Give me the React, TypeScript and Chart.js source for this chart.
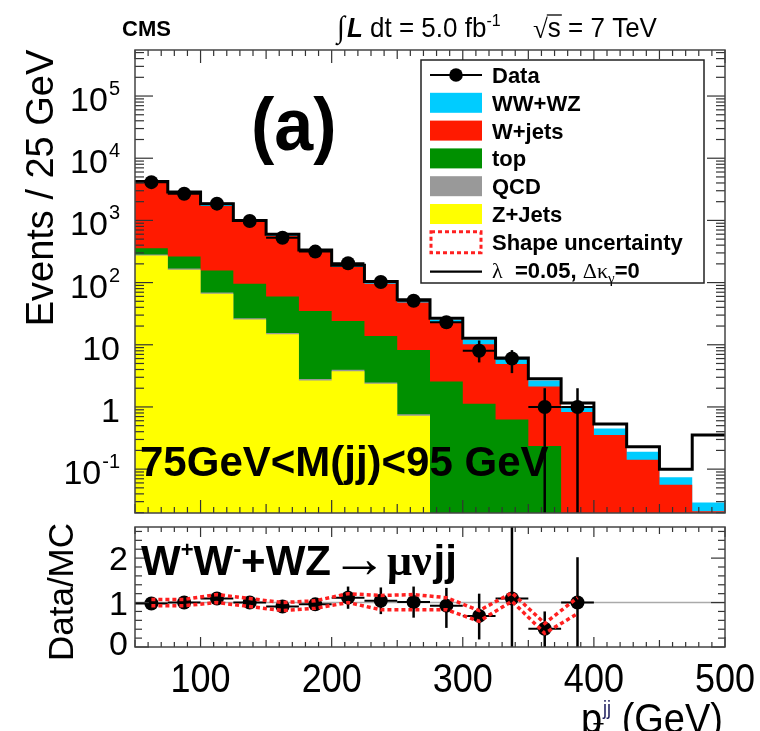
import React, { useEffect, useRef } from "react";
import { Chart, registerables } from "chart.js";

Chart.register(...registerables);

// ---------------- data ----------------
const binEdges = [50, 75, 100, 125, 150, 175, 200, 225, 250, 275, 300, 325, 350, 375, 400, 425, 450, 475, 500];
const zJets = [272, 161, 66, 25.6, 14.8, 2.66, 3.75, 2.36, 0.72, 0, 0, 0, 0, 0, 0, 0, 0, 0];
const qcd = [12, 8, 3, 1.2, 0.7, 0.15, 0.2, 0.12, 0.04, 0, 0, 0, 0, 0, 0, 0, 0, 0];
const topQuark = [72, 93, 88, 69, 44.5, 32, 20.2, 11.4, 7.44, 2.57, 1.13, 0.63, 0.236, 0, 0, 0, 0, 0];
const wJets = [3664, 2428, 1543, 852, 500, 280, 154, 82, 39.8, 20.1, 9.07, 4.27, 1.9, 0.83, 0.353, 0.141, 0.056, 0.021];
const wwWz = [150, 110, 95, 45, 32, 16, 11, 6, 3.5, 2.6, 1.7, 1.0, 0.52, 0.17, 0.097, 0.049, 0.018, 0.008];
const atgcTotal = [4230, 2850, 1860, 1000, 600, 335, 190, 104, 53, 26.6, 12.7, 6.1, 2.83, 1.16, 0.53, 0.23, 0.1, 0.353];
const dataCounts = [4120, 2690, 1860, 980, 527, 315, 205, 102, 51, 23, 8, 6, 1, 1];
const dataErrUp = [64, 52, 43, 31, 23, 18, 14, 10, 7, 4.8, 3.7, 2.2, 1, 1];
const dataErrDown = [64, 52, 43, 31, 23, 18, 14, 10, 7, 4.8, 2.8, 2.5, 1, 1];
const ratio = [0.98, 1.0, 1.09, 1.0, 0.91, 0.96, 1.11, 1.04, 1.01, 0.93, 0.7, 1.09, 0.41, 1.0];
const ratioErrUp = [0.04, 0.05, 0.06, 0.07, 0.1, 0.12, 0.25, 0.3, 0.35, 0.4, 0.5, 2.0, 0.39, 1.02];
const ratioErrDown = [0.04, 0.05, 0.06, 0.07, 0.1, 0.12, 0.25, 0.3, 0.35, 0.5, 0.53, 1.09, 0.41, 1.0];
const bandUp = [1.07, 1.07, 1.18, 1.09, 1.0, 1.04, 1.2, 1.16, 1.18, 1.11, 0.82, 1.22, 0.53, 1.11];
const bandDown = [0.93, 0.93, 1.0, 0.91, 0.82, 0.87, 1.0, 0.84, 0.84, 0.84, 0.58, 1.03, 0.31, 0.75];
const xTickLabels = [100, 200, 300, 400, 500];
const yDecades = [-1, 0, 1, 2, 3, 4, 5];
const ratioTickLabels = [0, 1, 2];

// ---------------- config ----------------
const Y_MIN = 0.0197;
const Y_MAX = 5.5e5;
const R_MAX = 2.7;
const RATIO_TOP = 520;
const SANS = '"Liberation Sans", Arial, Helvetica, sans-serif';
const SERIF = '"Liberation Serif", "DejaVu Serif", serif';
const COL = { ww: "#00ccff", wj: "#ff1a00", top: "#009000", qcd: "#999999", z: "#ffff00" };

const centers = binEdges.slice(0, -1).map((e, i) => (e + binEdges[i + 1]) / 2);

function stepPoints(vals: number[]) {
  const pts = vals.map((v, i) => ({ x: binEdges[i], y: v > 0 ? v : Y_MIN }));
  const last = vals[vals.length - 1];
  pts.push({ x: binEdges[binEdges.length - 1], y: last > 0 ? last : Y_MIN });
  return pts;
}
function cumulative(...arrs: number[][]) {
  return arrs[0].map((_, i) => arrs.reduce((s, a) => s + a[i], 0));
}

type Run = { t: string; font: string; dy?: number; dx?: number; color?: string };
function runsWidth(ctx: CanvasRenderingContext2D, runs: Run[]) {
  let w = 0;
  for (const r of runs) {
    ctx.font = r.font;
    w += ctx.measureText(r.t).width + (r.dx || 0);
  }
  return w;
}
function drawRuns(ctx: CanvasRenderingContext2D, runs: Run[], x: number, y: number, align = "left", sy = 1) {
  ctx.save();
  const w = runsWidth(ctx, runs);
  let cx = align === "right" ? x - w : align === "center" ? x - w / 2 : x;
  ctx.textAlign = "left";
  ctx.textBaseline = "alphabetic";
  for (const r of runs) {
    ctx.font = r.font;
    ctx.fillStyle = r.color || "#000";
    cx += r.dx || 0;
    ctx.save();
    ctx.translate(cx, y + (r.dy || 0));
    ctx.scale(1, sy);
    ctx.fillText(r.t, 0, 0);
    ctx.restore();
    cx += ctx.measureText(r.t).width;
  }
  ctx.restore();
  return cx;
}
function seg(ctx: CanvasRenderingContext2D, x1: number, y1: number, x2: number, y2: number) {
  ctx.beginPath();
  ctx.moveTo(x1, y1);
  ctx.lineTo(x2, y2);
  ctx.stroke();
}
function drawXTicks(ctx: CanvasRenderingContext2D, xs: any, a: any, lens: number[]) {
  for (let v = 50; v <= 500; v += 10) {
    const x = xs.getPixelForValue(v);
    const len = v % 100 === 0 ? lens[2] : v % 50 === 0 ? lens[1] : lens[0];
    seg(ctx, x, a.bottom, x, a.bottom - len);
    seg(ctx, x, a.top, x, a.top + len);
  }
}

// ---------------- plugins ----------------
const mainPlugin = {
  id: "mainDecor",
  afterDatasetsDraw(chart: any) {
    const { ctx, chartArea: a, scales } = chart;
    const xs = scales.x, ys = scales.y;
    ctx.save();
    ctx.beginPath();
    ctx.rect(a.left, a.top, a.right - a.left, a.bottom - a.top);
    ctx.clip();
    ctx.strokeStyle = "#000";
    dataCounts.forEach((v, i) => {
      const x = xs.getPixelForValue(centers[i]);
      const y = ys.getPixelForValue(v);
      ctx.lineWidth = 2;
      seg(ctx, xs.getPixelForValue(binEdges[i]), y, xs.getPixelForValue(binEdges[i + 1]), y);
      ctx.lineWidth = 2.5;
      const lo = v - dataErrDown[i];
      seg(ctx, x, ys.getPixelForValue(v + dataErrUp[i]), x, lo > 0 ? ys.getPixelForValue(lo) : a.bottom);
    });
    ctx.restore();
  },
  afterDraw(chart: any) {
    const { ctx, chartArea: a, scales } = chart;
    const xs = scales.x, ys = scales.y;
    ctx.save();
    // ticks
    ctx.strokeStyle = "#333";
    ctx.lineWidth = 1.2;
    drawXTicks(ctx, xs, a, [6, 9, 13]);
    for (let n = -2; n <= 5; n++) {
      for (let k = 1; k <= 9; k++) {
        const v = k * Math.pow(10, n);
        if (v < ys.min || v > ys.max) continue;
        const y = ys.getPixelForValue(v);
        const len = k === 1 ? 18 : 9;
        seg(ctx, a.left, y, a.left + len, y);
        seg(ctx, a.right, y, a.right - len, y);
      }
    }
    // frame
    ctx.strokeStyle = "#444";
    ctx.lineWidth = 1.5;
    ctx.strokeRect(a.left, a.top, a.right - a.left, a.bottom - a.top);

    // y labels
    yDecades.forEach((n) => {
      const y = ys.getPixelForValue(Math.pow(10, n));
      const runs: Run[] =
        n === 0
          ? [{ t: "1", font: `34px ${SANS}` }]
          : n === 1
          ? [{ t: "10", font: `34px ${SANS}` }]
          : [
              { t: "10", font: `34px ${SANS}` },
              { t: String(n), font: `20px ${SANS}`, dy: -16, dx: 1 },
            ];
      drawRuns(ctx, runs, 120, y + 15, "right");
    });

    // y title
    ctx.save();
    ctx.translate(53, 188);
    ctx.rotate(-Math.PI / 2);
    ctx.font = `38px ${SANS}`;
    ctx.fillStyle = "#000";
    ctx.textAlign = "center";
    ctx.textBaseline = "alphabetic";
    ctx.fillText("Events / 25 GeV", 0, 0);
    ctx.restore();

    // header
    drawRuns(ctx, [{ t: "CMS", font: `bold 22px ${SANS}` }], 122, 36);
    drawRuns(
      ctx,
      [
        { t: "∫", font: `italic 29px ${SERIF}` },
        { t: "L", font: `italic bold 26px ${SANS}`, dx: 2 },
        { t: " dt = 5.0 fb", font: `26px ${SANS}` },
        { t: "-1", font: `16px ${SANS}`, dy: -11 },
      ],
      337,
      37,
      "left",
      1.05
    );
    {
      const sx = drawRuns(ctx, [{ t: "√", font: `27px ${SERIF}` }], 533, 38);
      ctx.font = `26px ${SANS}`;
      const sw = ctx.measureText("s").width;
      drawRuns(ctx, [{ t: "s", font: `26px ${SANS}` }, { t: " = 7 TeV", font: `26px ${SANS}` }], sx, 37, "left", 1.05);
      ctx.strokeStyle = "#000";
      ctx.lineWidth = 1.3;
      seg(ctx, sx - 1, 15, sx + sw + 1, 15);
    }

    // (a)
    drawRuns(ctx, [{ t: "(a)", font: `bold 70px ${SANS}` }], 251, 150, "left", 1.05);
    // mass window
    drawRuns(ctx, [{ t: "75GeV<M(jj)<95 GeV", font: `bold 42px ${SANS}` }], 140, 476);

    // legend
    const L = { x: 421, y: 60, w: 283, h: 223 };
    ctx.fillStyle = "#fff";
    ctx.fillRect(L.x, L.y, L.w, L.h);
    ctx.strokeStyle = "#222";
    ctx.lineWidth = 1.5;
    ctx.strokeRect(L.x, L.y, L.w, L.h);
    const rowH = 27.8;
    const rc = (i: number) => 75 + i * rowH;
    const tx = 492;
    const lf = `bold 22px ${SANS}`;
    // Data
    ctx.strokeStyle = "#000";
    ctx.lineWidth = 2.2;
    seg(ctx, 430, rc(0), 482, rc(0));
    ctx.fillStyle = "#000";
    ctx.beginPath();
    ctx.arc(456, rc(0), 6.8, 0, Math.PI * 2);
    ctx.fill();
    drawRuns(ctx, [{ t: "Data", font: lf }], tx, rc(0) + 8);
    const boxes: [string, string][] = [
      [COL.ww, "WW+WZ"],
      [COL.wj, "W+jets"],
      [COL.top, "top"],
      [COL.qcd, "QCD"],
      [COL.z, "Z+Jets"],
    ];
    boxes.forEach(([c, t], j) => {
      const i = j + 1;
      ctx.fillStyle = c;
      ctx.fillRect(430, rc(i) - 10, 52, 20);
      drawRuns(ctx, [{ t, font: lf }], tx, rc(i) + 8);
    });
    // shape uncertainty
    ctx.save();
    ctx.strokeStyle = "#ff2020";
    ctx.lineWidth = 3;
    ctx.setLineDash([4, 3]);
    ctx.strokeRect(431, rc(6) - 10, 50, 21);
    ctx.restore();
    drawRuns(ctx, [{ t: "Shape uncertainty", font: lf }], tx, rc(6) + 8);
    // aTGC
    ctx.strokeStyle = "#000";
    ctx.lineWidth = 2.2;
    seg(ctx, 430, rc(7) + 2, 482, rc(7) + 2);
    drawRuns(
      ctx,
      [
        { t: "λ", font: `22px ${SERIF}` },
        { t: "  =0.05, ", font: lf },
        { t: "Δκ", font: `22px ${SERIF}` },
        { t: "γ", font: `15px ${SERIF}`, dy: 5 },
        { t: "=0", font: lf },
      ],
      tx,
      rc(7) + 8
    );
    ctx.restore();
  },
};

const ratioPlugin = {
  id: "ratioDecor",
  beforeDatasetsDraw(chart: any) {
    const { ctx, chartArea: a, scales } = chart;
    const xs = scales.x, ys = scales.y;
    ctx.save();
    ctx.beginPath();
    ctx.rect(a.left, a.top, a.right - a.left, a.bottom - a.top);
    ctx.clip();
    ctx.strokeStyle = "#aaaaaa";
    ctx.lineWidth = 1.5;
    seg(ctx, a.left, ys.getPixelForValue(1), a.right, ys.getPixelForValue(1));
    ctx.strokeStyle = "#000";
    ratio.forEach((v, i) => {
      const x = xs.getPixelForValue(centers[i]);
      const y = ys.getPixelForValue(v);
      ctx.lineWidth = 2;
      seg(ctx, xs.getPixelForValue(binEdges[i]), y, xs.getPixelForValue(binEdges[i + 1]), y);
      ctx.lineWidth = 2.5;
      seg(ctx, x, ys.getPixelForValue(v + ratioErrUp[i]), x, ys.getPixelForValue(Math.max(0, v - ratioErrDown[i])));
    });
    ctx.restore();
  },
  afterDraw(chart: any) {
    const { ctx, chartArea: a, scales } = chart;
    const xs = scales.x, ys = scales.y;
    ctx.save();
    ctx.strokeStyle = "#333";
    ctx.lineWidth = 1.2;
    drawXTicks(ctx, xs, a, [5, 7, 10]);
    for (let i = 0; i <= 13; i++) {
      const v = i * 0.2;
      if (v > ys.max) continue;
      const y = ys.getPixelForValue(v);
      const len = i % 5 === 0 ? 14 : 7;
      seg(ctx, a.left, y, a.left + len, y);
      seg(ctx, a.right, y, a.right - len, y);
    }
    ctx.strokeStyle = "#444";
    ctx.lineWidth = 1.5;
    ctx.strokeRect(a.left, a.top, a.right - a.left, a.bottom - a.top);

    // y labels
    ratioTickLabels.forEach((v) => {
      const y = ys.getPixelForValue(v) - (v === 0 ? 4 : 0);
      drawRuns(ctx, [{ t: String(v), font: `34px ${SANS}` }], 128, y + 12, "right");
    });
    // x labels
    xTickLabels.forEach((v) => {
      drawRuns(ctx, [{ t: String(v), font: `36px ${SANS}` }], xs.getPixelForValue(v), 692 - RATIO_TOP, "center", 1.15);
    });
    // x title
    drawRuns(
      ctx,
      [
        { t: "p", font: `38px ${SANS}` },
        { t: "jj", font: `18px ${SANS}`, dy: -18, color: "#1c1c5c", dx: 1 },
        { t: " (GeV)", font: `38px ${SANS}` },
      ],
      723,
      733 - RATIO_TOP,
      "right",
      1.1
    );
    drawRuns(ctx, [{ t: "T", font: `18px ${SANS}` }], 593, 736 - RATIO_TOP);
    // y title
    ctx.save();
    ctx.translate(73, 592 - RATIO_TOP);
    ctx.rotate(-Math.PI / 2);
    ctx.font = `35px ${SANS}`;
    ctx.fillStyle = "#000";
    ctx.textAlign = "center";
    ctx.fillText("Data/MC", 0, 0);
    ctx.restore();
    // process label
    const bf = `bold 42px ${SANS}`;
    drawRuns(
      ctx,
      [
        { t: "W", font: bf },
        { t: "+", font: `bold 22px ${SANS}`, dy: -18 },
        { t: "W", font: bf },
        { t: "-", font: `bold 24px ${SANS}`, dy: -18 },
        { t: "+WZ", font: bf },
        { t: "→", font: `56px ${SERIF}`, dy: 2 },
        { t: "μν", font: `bold 44px ${SERIF}` },
        { t: "jj", font: bf, dx: 2 },
      ],
      141,
      575 - RATIO_TOP
    );
    ctx.restore();
  },
};

// ---------------- component ----------------
export default function App() {
  const mainRef = useRef<HTMLCanvasElement | null>(null);
  const ratioRef = useRef<HTMLCanvasElement | null>(null);

  useEffect(() => {
    const c1 = cumulative(zJets);
    const c2 = cumulative(zJets, qcd);
    const c3 = cumulative(zJets, qcd, topQuark);
    const c4 = cumulative(zJets, qcd, topQuark, wJets);
    const c5 = cumulative(zJets, qcd, topQuark, wJets, wwWz);

    const fillDs = (vals: number[], color: string, order: number) => ({
      data: stepPoints(vals),
      stepped: "before" as const,
      fill: "start",
      backgroundColor: color,
      borderColor: color,
      borderWidth: 0,
      pointRadius: 0,
      order,
    });

    const main = new Chart(mainRef.current!, {
      type: "line",
      data: {
        datasets: [
          fillDs(c5, COL.ww, 10),
          fillDs(c4, COL.wj, 9),
          fillDs(c3, COL.top, 8),
          fillDs(c2, COL.qcd, 7),
          fillDs(c1, COL.z, 6),
          {
            data: stepPoints(atgcTotal),
            stepped: "before",
            fill: false,
            borderColor: "#000",
            borderWidth: 3,
            pointRadius: 0,
            order: 2,
          },
          {
            data: dataCounts.map((v, i) => ({ x: centers[i], y: v })),
            showLine: false,
            pointRadius: 7,
            pointBackgroundColor: "#000",
            pointBorderWidth: 0,
            order: 1,
          },
        ] as any,
      },
      options: {
        responsive: false,
        animation: false,
        events: [],
        layout: { padding: { left: 135, right: 35, top: 50, bottom: 3 } },
        scales: {
          x: { type: "linear", min: 50, max: 500, display: false },
          y: { type: "logarithmic", min: Y_MIN, max: Y_MAX, display: false },
        },
        plugins: { legend: { display: false }, tooltip: { enabled: false } },
      },
      plugins: [mainPlugin],
    });

    const bandDs = (vals: number[]) => ({
      data: vals.map((v, i) => ({ x: centers[i], y: v })),
      borderColor: "#ff2020",
      borderWidth: 3.5,
      borderDash: [4, 3],
      pointRadius: 0,
      fill: false,
      order: 1,
    });

    const rat = new Chart(ratioRef.current!, {
      type: "line",
      data: {
        datasets: [
          bandDs(bandUp),
          bandDs(bandDown),
          {
            data: ratio.map((v, i) => ({ x: centers[i], y: v })),
            showLine: false,
            pointRadius: 7,
            pointBackgroundColor: "#000",
            pointBorderWidth: 0,
            order: 3,
          },
        ] as any,
      },
      options: {
        responsive: false,
        animation: false,
        events: [],
        layout: { padding: { left: 135, right: 35, top: 3, bottom: 84 } },
        scales: {
          x: { type: "linear", min: 50, max: 500, display: false },
          y: { type: "linear", min: 0, max: R_MAX, display: false },
        },
        plugins: { legend: { display: false }, tooltip: { enabled: false } },
      },
      plugins: [ratioPlugin],
    });

    return () => {
      main.destroy();
      rat.destroy();
    };
  }, []);

  return (
    <div style={{ position: "absolute", left: 0, top: 0, width: 760, height: 731, background: "#fff", overflow: "hidden" }}>
      <canvas ref={mainRef} width={760} height={520} style={{ position: "absolute", left: 0, top: 0 }} />
      <canvas ref={ratioRef} width={760} height={211} style={{ position: "absolute", left: 0, top: RATIO_TOP }} />
    </div>
  );
}
